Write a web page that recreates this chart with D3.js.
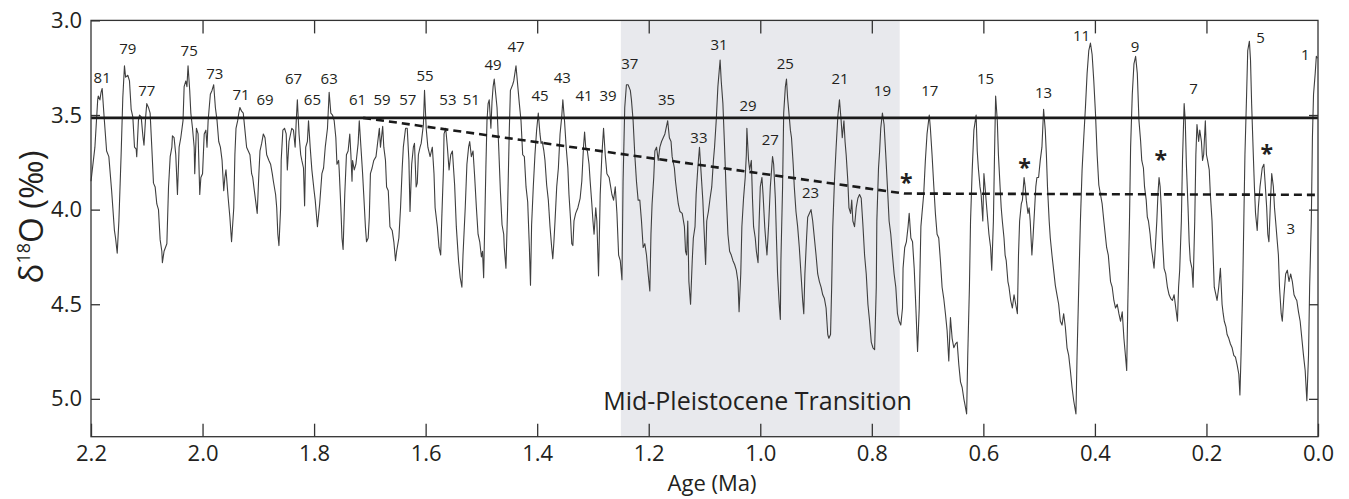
<!DOCTYPE html>
<html><head><meta charset="utf-8">
<script src="https://cdn.jsdelivr.net/npm/d3@7"></script>
<style>
body{margin:0;background:#fff}
svg{display:block}
text{font-family:"Open Sans",sans-serif;fill:#231f20}
</style>
</head><body>
<svg id="chart" width="1349" height="499"></svg>
<script>
// Age in ka (thousand years before present)
const ageKa = [2200,2193,2188,2187,2184,2182,2180,2176,2172,2168,2163,2158,2156,2153,2150,2146,2143,2140,2138,2134,2131,2128,2125,2122,2119,2118,2115,2113,2110,2107,2105,2102,2100,2097,2094,2091,2088,2085,2082,2079,2076,2073,2072,2069,2064,2061,2058,2055,2054,2051,2048,2045,2042,2039,2035,2033,2030,2028,2026,2023,2021,2018,2015,2014,2011,2008,2005,2003,2000,1997,1994,1992,1990,1986,1983,1980,1977,1974,1971,1968,1965,1962,1960,1958,1954,1951,1948,1944,1942,1940,1937,1935,1933,1930,1927,1924,1921,1918,1915,1912,1910,1908,1905,1902,1899,1897,1894,1891,1888,1885,1881,1878,1875,1873,1869,1867,1865,1863,1860,1859,1856,1853,1850,1848,1845,
1840,1837,1834,1832,1830,1827,1824,1822,1819,1817,1815,1812,1810,1807,1804,1800,1798,1794,1790,1786,1783,1780,1776,1773,1770,1767,1764,1761,1759,1756,1755,1752,1750,1748,1745,1742,1739,1736,1734,1732,1731,1728,1725,1721,1719,1716,1713,1711,1708,1706,1703,1701,1699,1696,1693,1689,1687,1683,1681,1677,1675,1672,1670,1667,1664,1660,1657,1654,1652,1648,1645,1642,1640,1636,1633,1630,1628,1625,1622,1620,1617,1615,1613,1610,1608,1604,1602,1599,1596,1592,1588,1585,1583,1579,1576,1573,1571,1568,1567,1564,1561,1558,1555,1552,1548,1545,1541,1538,1535,1533,1529,1526,1523,1521,1518,1515,1512,1509,1506,1503,1500,1498,1496,1492,1490,1488,1486,1483,1481,1479,1477,
1472,1469,1466,1463,1460,1459,1456,1453,1450,1448,1444,1442,1438,1435,1432,1429,1426,1423,1420,1417,1414,1412,1410,1407,1404,1401,1398,1395,1393,1391,1388,1386,1383,1380,1377,1374,1372,1370,1368,1365,1362,1359,1356,1354,1351,1348,1345,1343,1340,1338,1336,1334,1331,1327,1323,1320,1317,1315,1313,1310,1307,1305,1302,1300,1298,1295,1293,1290,1287,1284,1281,1278,1275,1271,1266,1263,1260,1257,1254,1251,1248,1246,1243,1240,1237,1233,1231,1228,1225,1222,1219,1216,1213,1210,1207,1204,1201,1198,1196,1194,1191,1189,1186,1183,1180,1177,1174,1171,1166,1163,1160,1158,1154,1152,1150,1147,1144,1140,1136,1134,1132,1130,1128,1125,1122,1120,1117,
1115,1112,1109,1106,1103,1101,1098,1096,1093,1090,1087,1084,1082,1079,1076,1072,1070,1067,1064,1061,1058,1055,1052,1049,1046,1043,1040,1038,1035,1033,1030,1027,1025,1024,1021,1019,1016,1014,1012,1009,1007,1004,1002,1000,997,995,992,990,988,985,982,978,976,973,971,969,966,964,963,960,958,955,953,951,948,946,944,941,939,936,933,930,927,924,922,920,917,915,912,909,906,903,900,897,894,891,888,885,882,879,877,874,872,870,867,864,861,858,855,853,850,848,846,843,841,838,836,834,831,828,825,822,819,816,813,810,807,804,801,798,795,792,791,788,786,784,781,778,775,772,769,766,763,760,757,754,751,748,
745,744,741,738,735,733,730,727,724,721,718,715,712,710,707,704,701,697,695,692,689,686,683,680,677,674,671,668,665,662,659,656,653,650,647,644,641,638,635,633,630,628,625,623,620,617,613,611,609,606,604,601,599,597,594,592,590,587,585,582,580,578,575,573,570,568,566,563,561,559,556,554,551,548,545,542,539,537,535,532,530,527,525,523,520,518,516,513,511,508,506,504,501,498,495,492,489,487,485,482,480,477,474,471,468,465,462,459,456,453,450,447,444,441,438,434,432,429,426,423,420,417,414,411,408,405,402,399,396,393,390,387,384,
379,376,374,372,369,366,363,360,357,354,351,348,345,343,341,338,336,333,330,327,324,321,318,316,313,311,308,306,304,301,299,297,294,292,289,287,285,283,281,279,276,273,270,267,264,261,258,255,252,250,248,245,243,240,238,236,233,231,229,226,224,221,219,217,214,212,209,207,205,202,200,198,195,193,190,188,186,183,181,178,175,172,170,168,165,163,160,157,154,151,148,145,142,140,138,135,133,131,128,126,123,121,119,116,114,112,109,107,104,102,100,97,95,92,90,88,85,83,80,78,76,73,71,69,66,64,61,58,55,52,49,46,43,40,38,35,32,29,26,23,20,17,15,12,10,8,5,3,1];

// Benthic d18O (per mil)
const d18O = [3.85,3.67,3.42,3.40,3.42,3.38,3.36,3.53,3.69,3.72,3.90,4.11,4.15,4.23,4.06,3.71,3.41,3.24,3.30,3.29,3.32,3.47,3.51,3.67,3.68,3.72,3.53,3.50,3.51,3.61,3.66,3.51,3.44,3.46,3.49,3.67,3.86,3.88,3.97,4.00,4.16,4.22,4.28,4.22,4.18,3.88,3.72,3.67,3.61,3.62,3.71,3.92,3.67,3.62,3.53,3.35,3.32,3.35,3.24,3.37,3.49,3.57,3.67,3.81,3.57,3.60,3.92,3.83,3.81,3.60,3.58,3.67,3.53,3.39,3.37,3.34,3.46,3.53,3.64,3.67,3.74,3.90,3.83,3.79,3.94,4.04,4.17,3.99,3.71,3.57,3.53,3.49,3.46,3.48,3.49,3.58,3.67,3.69,3.71,3.81,3.83,3.88,3.95,4.02,3.81,3.69,3.65,3.60,3.62,3.71,3.74,3.76,3.81,3.85,3.92,3.99,4.13,4.19,3.99,3.74,3.58,3.57,3.60,3.79,3.64,
3.57,3.58,3.67,3.53,3.42,3.60,3.71,3.74,3.78,3.98,3.67,3.64,3.53,3.67,3.79,3.90,3.95,4.09,3.97,3.81,3.78,3.67,3.57,3.38,3.49,3.50,3.53,3.62,3.76,3.74,3.79,3.99,4.15,4.21,3.92,3.71,3.69,3.60,3.71,3.85,3.74,3.79,3.76,3.65,3.53,3.67,3.81,3.92,4.09,4.17,4.15,4.04,3.81,3.78,3.74,3.72,3.67,3.57,3.67,3.56,3.67,3.74,3.88,3.90,4.09,4.11,4.17,4.27,4.22,4.15,3.99,3.78,3.67,3.57,3.57,3.74,4.01,3.76,3.67,3.65,3.88,3.86,3.71,3.67,3.65,3.55,3.37,3.57,3.67,3.72,3.67,3.81,3.99,4.09,4.20,4.24,4.04,3.78,3.60,3.57,3.67,3.79,3.71,3.69,3.87,4.09,4.27,4.36,4.41,4.24,3.99,3.76,3.67,3.64,3.72,3.69,3.83,3.99,4.13,4.17,4.25,4.22,4.36,3.78,3.53,3.44,3.42,3.57,3.43,3.35,3.31,
3.46,3.67,3.90,4.08,4.13,4.20,4.31,3.99,3.58,3.37,3.34,3.32,3.24,3.34,3.44,3.53,3.71,3.72,3.88,3.96,4.20,4.40,4.08,3.88,3.71,3.58,3.49,3.60,3.65,3.64,3.69,3.74,3.87,3.95,4.09,4.20,4.26,4.17,4.06,3.88,3.78,3.60,3.51,3.42,3.53,3.67,3.78,3.92,4.06,4.18,4.19,4.06,4.02,3.99,3.94,3.85,3.67,3.59,3.67,3.69,3.76,3.85,3.97,4.06,4.13,3.99,4.06,4.35,3.92,3.71,3.57,3.71,3.81,3.83,3.92,3.95,3.88,4.02,4.24,4.27,4.37,3.85,3.46,3.34,3.34,3.37,3.42,3.53,3.71,3.85,3.95,3.95,4.06,4.20,4.18,4.24,4.34,4.43,4.13,3.97,3.83,3.69,3.67,3.74,3.67,3.64,3.62,3.60,3.53,3.62,3.64,3.72,3.78,3.85,3.90,3.97,4.01,4.02,4.09,4.22,4.24,4.06,4.38,4.50,4.27,4.15,4.09,
3.92,3.78,3.67,3.81,3.95,4.09,4.29,4.06,4.01,3.94,3.88,3.74,3.67,3.53,3.35,3.21,3.32,3.44,3.67,3.92,4.13,4.22,4.24,4.27,4.29,4.32,4.38,4.54,4.34,4.09,3.94,3.83,3.71,3.57,3.74,3.79,3.74,3.94,4.09,4.15,4.22,4.28,4.06,3.88,3.83,3.92,4.09,4.17,4.24,4.08,3.88,3.72,3.76,3.94,4.15,4.34,4.50,4.58,4.27,3.88,3.49,3.35,3.31,3.41,3.51,3.58,3.62,3.76,3.88,4.01,4.09,4.20,4.34,4.48,4.55,4.34,4.15,4.04,4.02,4.00,4.06,4.15,4.24,4.34,4.38,4.41,4.45,4.47,4.52,4.66,4.68,4.66,4.41,4.09,3.85,3.67,3.51,3.42,3.53,3.62,3.53,3.64,3.71,3.85,3.99,4.02,3.95,4.06,4.09,3.99,3.94,3.92,3.94,4.08,4.24,4.34,4.50,4.59,4.70,4.73,4.74,4.41,4.06,3.78,3.69,3.57,3.49,3.55,3.71,3.88,4.06,4.13,4.24,4.34,4.41,4.55,4.59,4.61,
4.52,4.31,4.20,4.17,4.09,4.02,4.15,4.17,4.31,4.52,4.75,4.52,4.09,4.02,3.92,3.74,3.60,3.50,3.57,3.71,3.87,4.02,4.13,4.15,4.27,4.41,4.47,4.55,4.64,4.80,4.57,4.68,4.73,4.71,4.70,4.82,4.91,4.94,5.00,5.03,5.08,4.77,4.41,4.06,3.79,3.58,3.50,3.69,3.78,3.88,3.92,4.06,3.81,3.88,3.99,4.06,4.13,4.20,4.32,4.06,3.71,3.40,3.53,3.71,3.88,3.99,4.06,4.15,4.24,4.27,4.38,4.41,4.48,4.52,4.45,4.50,4.55,4.24,4.06,3.97,3.95,3.83,3.88,3.95,4.02,3.99,4.06,4.24,4.15,3.99,3.88,3.83,3.83,3.74,3.67,3.47,3.58,3.71,3.88,4.06,4.15,4.24,4.32,4.40,4.45,4.50,4.59,4.61,4.55,4.62,4.73,4.77,4.85,4.94,5.01,5.08,4.77,4.41,4.06,3.79,3.62,3.46,3.28,3.16,3.12,3.18,3.32,3.49,3.71,3.87,3.92,3.97,4.06,
4.20,4.24,4.31,4.38,4.41,4.48,4.52,4.50,4.55,4.59,4.54,4.68,4.78,4.85,4.50,4.06,3.67,3.39,3.23,3.19,3.28,3.53,3.64,3.74,3.78,3.88,3.95,4.04,4.06,4.13,4.20,4.24,4.31,4.22,4.06,3.92,3.83,3.88,3.99,4.15,4.31,4.34,4.41,4.45,4.47,4.48,4.45,4.52,4.59,4.41,4.32,4.06,3.74,3.44,3.53,3.76,3.99,4.17,4.27,4.31,4.41,4.06,3.71,3.55,3.64,3.58,3.64,3.74,3.71,3.53,3.71,3.74,3.79,3.92,4.06,4.24,4.41,4.45,4.48,4.41,4.31,4.50,4.55,4.59,4.62,4.66,4.68,4.71,4.73,4.77,4.78,4.82,4.87,4.98,4.77,4.41,4.06,3.71,3.39,3.16,3.11,3.21,3.44,3.71,3.88,4.02,4.11,3.99,3.88,3.83,3.78,3.76,3.85,3.99,4.13,4.17,3.94,3.81,3.88,3.99,4.06,4.17,4.24,4.41,4.55,4.59,4.45,4.34,4.32,4.38,4.34,4.38,4.45,4.47,4.48,4.54,4.59,4.68,4.77,4.85,5.01,4.77,4.41,4.06,3.62,3.39,3.28,3.19,3.20];

const xTickValues = [2200,2000,1800,1600,1400,1200,1000,800,600,400,200,0];
const yTickValues = [3.0,3.5,4.0,4.5,5.0];

// Marine isotope stage labels: name, age (ka), d18O position
const misNames = ["81","79","77","75","73","71","69","67","65","63","61","59","57","55","53","51","49","47","45","43","41","39","37","35","33","31","29","27","25","23","21","19","17","15","13","11","9","7","5","3","1"];
const misAge = [2180,2134,2100,2024,1978,1931,1888,1837,1803,1773,1722,1678,1632,1601,1560,1518,1479,1438,1395,1355,1316,1273,1234,1168,1110,1074,1022,982,955,910,857,781,696,596,492,424,328,223,103,49,23];
const misD = [3.30,3.15,3.37,3.16,3.28,3.39,3.42,3.31,3.42,3.31,3.42,3.42,3.42,3.29,3.42,3.42,3.235,3.14,3.40,3.30,3.40,3.40,3.23,3.42,3.62,3.13,3.45,3.63,3.23,3.91,3.31,3.37,3.37,3.31,3.38,3.08,3.14,3.36,3.09,4.10,3.18];

const starAge = [738,526,282,92];
const starD = [3.83,3.75,3.71,3.68];

const mptRange = [1250,750];
const refLevel = 3.515;
const trendAge = [1712,742,0];
const trendD = [3.515,3.915,3.922];

const svg = d3.select("#chart");
const x = d3.scaleLinear().domain([2200,0]).range([91,1318]);
const y = d3.scaleLinear().domain([3.0,5.2]).range([20.4,436.7]);
const X0 = x.range()[0], X1 = x.range()[1], Y0 = y.range()[0], Y1 = y.range()[1];

// MPT shading
svg.append("rect")
  .attr("x", x(mptRange[0])).attr("y", Y0)
  .attr("width", x(mptRange[1]) - x(mptRange[0])).attr("height", Y1 - Y0)
  .attr("fill", "#e8e9ed");

svg.append("text")
  .attr("x", x(1005)).attr("y", 410)
  .attr("text-anchor", "middle").attr("font-size", 25)
  .text("Mid-Pleistocene Transition");

// data curve
const pts = ageKa.map((a,i)=>[a, d18O[i]]);
svg.append("path").datum(pts)
  .attr("fill","none").attr("stroke","#3f3f3f").attr("stroke-width",1.1)
  .attr("stroke-linejoin","round")
  .attr("d", d3.line().x(d=>x(d[0])).y(d=>y(d[1])));

// reference solid line
svg.append("line")
  .attr("x1", X0).attr("x2", X1).attr("y1", y(refLevel)).attr("y2", y(refLevel))
  .attr("stroke","#1a1a1a").attr("stroke-width",2.8);

// dashed trend
svg.append("path").datum(trendAge.map((a,i)=>[a,trendD[i]]))
  .attr("fill","none").attr("stroke","#1a1a1a").attr("stroke-width",2.6)
  .attr("stroke-dasharray","8,5")
  .attr("d", d3.line().x(d=>x(d[0])).y(d=>y(d[1])));

// frame
svg.append("rect").attr("x",X0).attr("y",Y0).attr("width",X1-X0).attr("height",Y1-Y0)
  .attr("fill","none").attr("stroke","#333").attr("stroke-width",1.3);

function styleAxis(g, hideText){
  g.select(".domain").remove();
  g.selectAll(".tick line").attr("stroke","#333").attr("stroke-width",1.3);
  g.selectAll(".tick text").attr("font-size",22).attr("fill","#231f20")
    .style("font-family","'Open Sans', sans-serif");
  if (hideText) g.selectAll(".tick text").remove();
}
const fmtX = d => (d/1000).toFixed(1);
svg.append("g").attr("transform",`translate(0,${Y1})`)
  .call(d3.axisBottom(x).tickValues(xTickValues).tickSize(-13).tickPadding(9).tickFormat(fmtX))
  .call(g=>styleAxis(g,false));
svg.append("g").attr("transform",`translate(0,${Y0})`)
  .call(d3.axisTop(x).tickValues(xTickValues.slice(1,-1)).tickSize(-13))
  .call(g=>styleAxis(g,true));
svg.append("g").attr("transform",`translate(${X0},0)`)
  .call(d3.axisLeft(y).tickValues(yTickValues).tickSize(-9).tickPadding(9).tickFormat(d3.format(".1f")))
  .call(g=>styleAxis(g,false));
svg.append("g").attr("transform",`translate(${X1},0)`)
  .call(d3.axisRight(y).tickValues(yTickValues.slice(1)).tickSize(-9))
  .call(g=>styleAxis(g,true));

// MIS labels
svg.append("g").selectAll("text").data(misNames).join("text")
  .attr("x",(d,i)=>x(misAge[i])).attr("y",(d,i)=>y(misD[i]))
  .attr("dy","0.36em").attr("text-anchor","middle").attr("font-size",15)
  .text(d=>d);

// asterisks
svg.append("g").selectAll("text").data(starAge).join("text")
  .attr("x",(d)=>x(d)).attr("y",(d,i)=>y(starD[i]))
  .attr("dy","0.58em").attr("text-anchor","middle").attr("font-size",23).attr("font-weight",700)
  .text("*");

// axis titles
svg.append("text").attr("x", 712).attr("y", 491).attr("text-anchor","middle")
  .attr("font-size",22).text("Age (Ma)");

const yl = svg.append("text").attr("transform","translate(43,217) rotate(-90)")
  .attr("text-anchor","middle").attr("font-size",33);
yl.append("tspan").text("δ");
yl.append("tspan").attr("font-size",18).attr("dy","-0.75em").text("18");
yl.append("tspan").attr("dy","0.42em").text("O (‰)");
</script>
</body></html>
